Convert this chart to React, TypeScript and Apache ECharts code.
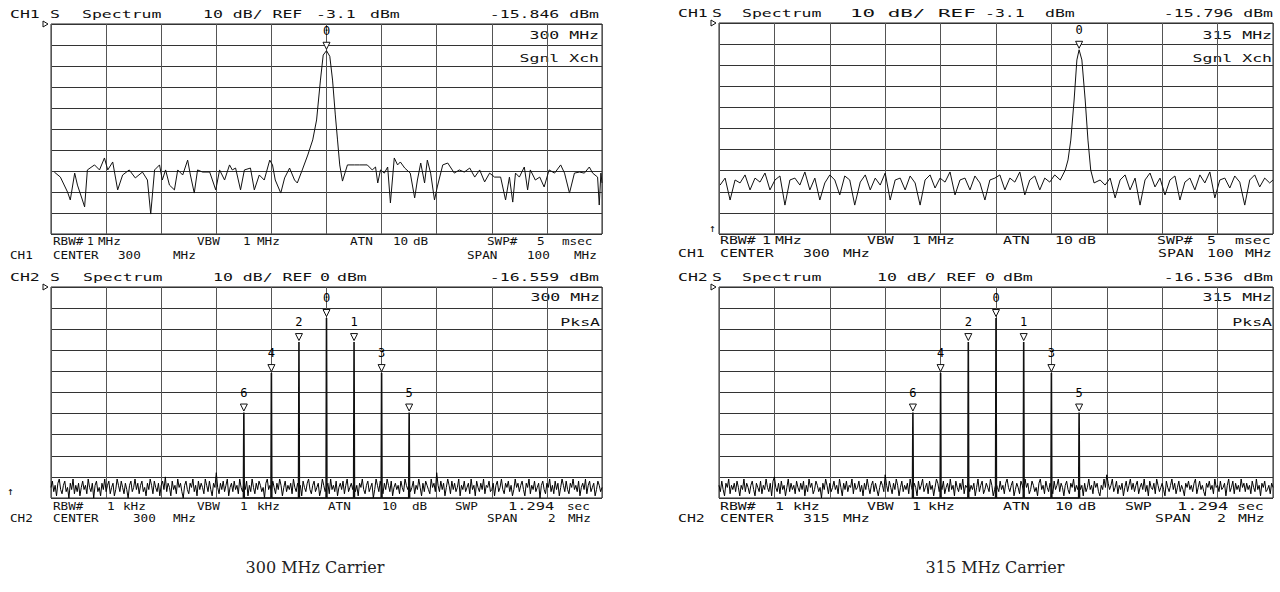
import React, { useEffect, useRef } from "react";
import * as echarts from "echarts";

// ---------- reference levels ----------
const CH1_REF_DBM = -3.1;
const CH2_REF_DBM = 0;

// ---------- CH1 (100 MHz span) traces: [offset from 300 MHz center in MHz, level dBm] ----------
const ch1Trace300: [number, number][] = [
  [-49.4,-73.6],[-48.3,-76.0],[-47.0,-83.1],[-46.5,-86.9],[-45.7,-74.1],[-45.2,-79.8],[-44.3,-86.9],[-43.9,-90.2],[-43.4,-72.6],[-42.1,-70.2],
  [-41.2,-72.6],[-40.3,-66.9],[-39.7,-72.6],[-38.8,-68.8],[-37.9,-82.1],[-37.0,-75.0],[-35.8,-72.6],[-34.7,-76.4],[-33.4,-73.6],[-32.5,-77.4],
  [-31.9,-93.6],[-31.2,-72.6],[-30.3,-70.2],[-29.8,-77.4],[-29.2,-72.6],[-28.5,-79.8],[-27.6,-82.1],[-27.0,-72.6],[-26.1,-75.0],[-25.2,-67.9],
  [-24.7,-75.0],[-24.0,-83.6],[-23.4,-72.6],[-22.5,-73.6],[-21.2,-73.6],[-20.1,-82.1],[-19.4,-72.6],[-18.5,-77.4],[-17.6,-70.2],[-17.1,-72.6],
  [-16.5,-71.7],[-15.6,-82.1],[-14.9,-72.6],[-13.8,-71.7],[-13.1,-82.1],[-12.2,-75.0],[-11.3,-77.4],[-10.3,-67.9],[-9.8,-70.2],[-9.3,-77.4],
  [-8.3,-83.6],[-7.6,-76.4],[-6.7,-71.7],[-5.8,-77.4],[-5.3,-78.8],[-4.4,-72.6],[-3.4,-65.5],[-2.5,-58.3],[-1.8,-48.8],[-1.1,-29.8],
  [-0.6,-17.9],[0,-15.8],[0.6,-18.5],[1.1,-29.8],[1.6,-46.4],[2.0,-58.3],[2.4,-70.2],[2.9,-77.9],[3.8,-70.2],[5.1,-70.2],
  [6.0,-70.2],[7.4,-70.2],[8.3,-72.6],[8.9,-71.2],[9.3,-78.8],[9.8,-72.6],[10.5,-74.1],[11.1,-71.2],[11.6,-88.3],[12.3,-66.9],
  [12.9,-70.2],[13.4,-68.8],[14.2,-71.7],[15.2,-74.1],[16.0,-85.9],[16.5,-77.4],[17.1,-69.3],[17.8,-78.8],[18.3,-67.9],[18.9,-74.1],
  [19.6,-86.9],[20.1,-80.7],[21.1,-70.2],[22.0,-69.3],[23.2,-74.1],[24.1,-72.6],[25.0,-73.6],[26.0,-71.7],[26.9,-76.0],[27.8,-72.6],
  [28.7,-78.3],[29.6,-74.1],[30.5,-76.0],[31.6,-76.0],[32.5,-86.9],[33.2,-76.0],[33.8,-87.9],[34.3,-74.1],[35.0,-76.0],[35.9,-71.2],
  [36.5,-82.1],[37.0,-72.6],[37.9,-77.4],[38.7,-76.0],[39.5,-80.7],[40.4,-72.6],[41.4,-74.1],[42.5,-70.2],[43.2,-74.1],[44.1,-83.6],
  [45.0,-74.1],[45.9,-73.6],[46.8,-74.1],[47.7,-71.2],[48.3,-74.1],[49.2,-76.0],[49.5,-89.3],[49.8,-74.1],[50,-78.8]
];

const ch1Trace315: [number, number][] = [
  [-49.8,-79.9],[-48.9,-76.6],[-48.0,-87.0],[-47.1,-77.5],[-46.2,-78.9],[-45.3,-75.1],[-44.4,-82.2],[-43.5,-76.6],[-42.6,-78.5],[-41.7,-74.2],
  [-40.8,-82.2],[-39.9,-77.5],[-39.0,-75.6],[-38.1,-89.4],[-37.2,-77.5],[-36.3,-76.6],[-35.4,-79.9],[-34.5,-73.7],[-33.6,-82.2],[-32.7,-76.6],
  [-31.8,-87.0],[-30.9,-78.9],[-30.0,-75.1],[-29.1,-77.5],[-28.2,-84.6],[-27.3,-75.6],[-26.4,-77.5],[-25.5,-89.4],[-24.5,-78.5],[-23.6,-75.1],
  [-22.7,-82.2],[-21.8,-76.6],[-20.9,-79.9],[-20.0,-74.2],[-19.1,-87.0],[-18.2,-77.5],[-17.3,-76.6],[-16.4,-82.2],[-15.5,-75.6],[-14.6,-78.9],
  [-13.7,-89.4],[-12.8,-77.5],[-11.9,-75.1],[-11.0,-81.3],[-10.1,-76.6],[-9.2,-78.5],[-8.3,-73.7],[-7.4,-84.6],[-6.5,-77.5],[-5.6,-76.6],
  [-4.7,-82.2],[-3.8,-75.6],[-2.9,-78.9],[-2.0,-87.0],[-1.1,-77.5],[-0.2,-76.6],[0.7,-75.1],[1.6,-82.2],[2.5,-76.6],[3.4,-78.5],
  [4.3,-73.7],[5.2,-84.6],[6.1,-77.5],[7.0,-75.6],[7.9,-82.2],[8.8,-76.6],[9.7,-78.5],[10.6,-75.1],[11.6,-77.5],[12.5,-72.8],
  [13.0,-68.0],[13.5,-58.6],[14.1,-39.6],[14.6,-20.6],[15.0,-15.8],[15.5,-20.6],[16.1,-39.6],[16.6,-58.6],[17.1,-72.8],[17.7,-78.9],
  [18.8,-77.5],[19.7,-79.9],[20.6,-76.6],[21.5,-86.0],[22.4,-77.5],[23.3,-75.1],[24.2,-82.2],[25.1,-76.6],[26.0,-89.4],[26.9,-77.5],
  [27.8,-74.2],[28.7,-80.8],[29.6,-76.6],[30.5,-84.6],[31.4,-77.5],[32.3,-75.6],[33.2,-87.0],[34.1,-78.5],[35.0,-76.6],[35.9,-82.2],
  [36.8,-75.1],[37.7,-78.9],[38.6,-73.7],[39.5,-86.0],[40.4,-77.5],[41.3,-76.6],[42.2,-81.3],[43.1,-75.6],[44.0,-78.5],[44.9,-89.4],
  [45.8,-77.5],[46.7,-75.1],[47.6,-80.8],[48.5,-76.6],[49.4,-78.9],[50,-77.5]
];

const ch1MarkerFreq300 = 0;
const ch1MarkerLevel300 = -15.846;
const ch1MarkerFreq315 = 15;
const ch1MarkerLevel315 = -15.796;

// ---------- CH2 (2 MHz span): noise floor in 5 kHz bins from -1000 kHz ----------
const ch2NoiseStartKHz = -1000;
const ch2NoiseStepKHz = 5;
const ch2Noise300: number[] = [
  -95,-92,-97,-94,-99,-93,-91,-96,-98,-94,-92,-97,-95,-100,-93,-96,-91,-98,-94,-97,
  -93,-99,-95,-92,-96,-94,-98,-91,-95,-97,-93,-100,-94,-92,-97,-95,-99,-93,-96,-91,
  -97,-94,-92,-98,-95,-93,-99,-96,-91,-94,-97,-92,-95,-98,-93,-96,-100,-94,-92,-97,
  -95,-91,-96,-93,-98,-94,-92,-97,-95,-99,-93,-96,-91,-94,-98,-92,-95,-97,-93,-99,
  -94,-92,-96,-90,-97,-93,-95,-99,-92,-96,-94,-98,-91,-95,-93,-97,-100,-94,-92,-96,
  -98,-93,-95,-91,-97,-94,-99,-92,-96,-93,-95,-98,-91,-94,-97,-92,-96,-99,-93,-95,
  -88,-95,-98,-93,-96,-92,-97,-94,-91,-99,-95,-93,-97,-92,-96,-94,-98,-91,-95,-97,
  -93,-96,-92,-99,-94,-97,-91,-95,-98,-93,-96,-92,-94,-97,-95,-100,-93,-91,-96,-94,
  -97,-92,-95,-98,-93,-96,-91,-94,-99,-95,-92,-97,-94,-96,-93,-98,-91,-95,-97,-93,
  -96,-94,-99,-92,-95,-97,-93,-91,-96,-98,-94,-92,-97,-95,-93,-99,-96,-91,-94,-97,
  -95,-93,-98,-91,-96,-94,-97,-92,-99,-95,-93,-96,-92,-98,-94,-91,-97,-95,-93,-96,
  -92,-97,-94,-99,-93,-95,-91,-96,-98,-94,-92,-97,-95,-93,-100,-96,-91,-94,-97,-92,
  -95,-98,-93,-96,-91,-94,-97,-92,-99,-95,-93,-96,-94,-98,-92,-95,-97,-91,-94,-96,
  -93,-97,-95,-92,-98,-94,-96,-91,-95,-99,-93,-97,-92,-94,-96,-98,-91,-95,-93,-97,
  -88,-94,-97,-92,-96,-93,-99,-95,-91,-94,-98,-92,-96,-93,-97,-95,-91,-99,-94,-96,
  -92,-97,-95,-93,-98,-91,-96,-94,-99,-92,-95,-97,-93,-96,-91,-98,-94,-95,-92,-97,
  -96,-93,-99,-94,-92,-97,-95,-91,-96,-98,-93,-95,-92,-97,-94,-99,-96,-91,-95,-93,
  -97,-94,-92,-96,-99,-93,-95,-91,-98,-94,-96,-92,-97,-95,-93,-100,-94,-92,-96,-98,
  -93,-95,-91,-97,-94,-98,-92,-96,-93,-99,-95,-91,-94,-97,-92,-96,-98,-93,-95,-91,
  -96,-94,-97,-92,-99,-95,-93,-96,-91,-98,-94,-92,-97,-95,-93,-99,-96,-92,-94,-97,
  -95
];
const ch2Noise315: number[] = [
  -94,-97,-92,-96,-99,-93,-95,-91,-98,-94,-96,-93,-97,-92,-95,-99,-94,-96,-91,-97,
  -93,-95,-98,-94,-92,-96,-99,-93,-95,-97,-92,-98,-94,-96,-91,-95,-97,-93,-99,-92,
  -90,-95,-97,-93,-98,-92,-96,-94,-99,-95,-91,-97,-93,-96,-94,-98,-92,-95,-97,-93,
  -96,-92,-99,-94,-97,-91,-95,-93,-98,-96,-92,-94,-97,-95,-100,-93,-96,-91,-94,-98,
  -93,-97,-95,-92,-96,-94,-98,-91,-95,-99,-93,-96,-92,-97,-94,-95,-91,-98,-93,-96,
  -95,-92,-97,-94,-99,-93,-96,-91,-95,-98,-94,-92,-97,-93,-96,-99,-95,-92,-94,-97,
  -89,-94,-97,-92,-95,-98,-93,-96,-91,-94,-99,-95,-92,-97,-94,-96,-93,-98,-91,-95,
  -97,-93,-95,-99,-92,-96,-94,-91,-97,-95,-93,-98,-92,-96,-94,-99,-95,-91,-93,-97,
  -94,-96,-92,-98,-95,-93,-97,-91,-96,-94,-99,-92,-95,-97,-93,-96,-91,-98,-94,-95,
  -92,-97,-94,-96,-93,-99,-95,-91,-97,-94,-92,-98,-96,-93,-95,-97,-91,-94,-99,-96,
  -93,-95,-97,-92,-96,-94,-98,-93,-91,-95,-97,-94,-92,-99,-96,-93,-95,-98,-92,-94,
  -97,-91,-95,-93,-98,-96,-92,-94,-97,-95,-99,-93,-91,-96,-94,-98,-92,-95,-97,-93,
  -95,-98,-92,-96,-94,-91,-97,-93,-95,-99,-94,-92,-96,-98,-93,-95,-91,-97,-94,-96,
  -92,-96,-94,-99,-93,-97,-95,-91,-96,-94,-98,-92,-95,-93,-97,-99,-94,-96,-91,-95,
  -89,-93,-96,-94,-91,-97,-95,-92,-98,-94,-96,-93,-99,-95,-92,-97,-94,-91,-96,-93,
  -97,-94,-92,-98,-95,-93,-96,-91,-97,-94,-99,-92,-95,-96,-93,-98,-91,-94,-97,-95,
  -93,-96,-99,-92,-95,-97,-94,-91,-96,-93,-98,-95,-92,-97,-94,-96,-99,-93,-95,-92,
  -96,-94,-97,-93,-91,-98,-95,-92,-96,-94,-97,-99,-93,-95,-92,-96,-94,-98,-91,-95,
  -94,-97,-92,-96,-95,-93,-99,-94,-91,-97,-95,-92,-98,-93,-96,-94,-97,-91,-95,-93,
  -97,-93,-96,-94,-98,-92,-95,-97,-91,-96,-94,-99,-93,-95,-92,-97,-96,-94,-98,-93,
  -95
];

const ch2MarkerLabels = ["6", "4", "2", "0", "1", "3", "5"];
const ch2MarkerFreqsKHz = [-300, -200, -100, 0, 100, 200, 300];
const ch2MarkerLevels300 = [-59.5, -40.8, -26.1, -14.7, -26.1, -40.8, -59.5];
const ch2MarkerLevels315 = [-59.5, -40.8, -26.1, -14.7, -26.1, -40.8, -59.5];

// ---------- texts ----------
const captions = ["300 MHz Carrier", "315 MHz Carrier"];

const FONT = "'DejaVu Sans Mono', 'Liberation Mono', monospace";
const INK = "#111";

function T(text: string, x: number, y: number, sx: number, align: string = "left") {
  return {
    type: "text",
    x,
    y,
    scaleX: sx,
    silent: true,
    style: {
      text,
      font: `11px ${FONT}`,
      fill: INK,
      align,
      textAlign: align,
      verticalAlign: "middle",
      textVerticalAlign: "middle",
    },
  };
}

const H = 1.5;
const FL = 1.15;
const FR = 1.35;

const panelTexts = [
  // top-left
  T("CH1", 10, 14, H), T("S", 50, 14, H), T("Spectrum", 82, 14, H), T("10 dB/ REF", 203, 14, H),
  T("-3.1", 316, 14, H), T("dBm", 370, 14, H), T("-15.846 dBm", 599, 14, H, "right"),
  T("300 MHz", 599, 35, H, "right"), T("Sgnl Xch", 599, 58, H, "right"),
  T("RBW#", 53, 241, FL), T("1", 87, 241, 1), T("MHz", 98, 241, FL), T("VBW", 197, 241, FL), T("1", 243, 241, FL),
  T("MHz", 257, 241, FL), T("ATN", 350, 241, FL), T("10", 393, 241, FL), T("dB", 413, 241, FL),
  T("SWP#", 487, 241, FL), T("5", 537, 241, FL), T("msec", 562, 241, FL),
  T("CH1", 10, 255, FL), T("CENTER", 53, 255, FL), T("300", 118, 255, FL), T("MHz", 173, 255, FL),
  T("SPAN", 467, 255, FL), T("100", 527, 255, FL), T("MHz", 574, 255, FL),
  // bottom-left
  T("CH2", 10, 277, H), T("S", 50, 277, H), T("Spectrum", 83, 277, H), T("10 dB/ REF", 213, 277, H),
  T("0", 320, 277, H), T("dBm", 337, 277, H), T("-16.559 dBm", 599, 277, H, "right"),
  T("300 MHz", 600, 297, H, "right"), T("PksA", 600, 322, H, "right"),
  T("\u2191", 7, 491, 1),
  T("RBW#", 53, 506, FL), T("1", 107, 506, FL), T("kHz", 123, 506, FL), T("VBW", 197, 506, FL), T("1", 240, 506, FL),
  T("kHz", 257, 506, FL), T("ATN", 328, 506, FL), T("10", 382, 506, FL), T("dB", 412, 506, FL),
  T("SWP", 455, 506, FL), T("1.294", 508, 506, 1.4), T("sec", 567, 506, FL),
  T("CH2", 10, 518, FL), T("CENTER", 53, 518, FL), T("300", 133, 518, FL), T("MHz", 173, 518, FL),
  T("SPAN", 487, 518, FL), T("2", 548, 518, FL), T("MHz", 568, 518, FL),
  // top-right
  T("CH1", 678, 13, H), T("S", 712, 13, H), T("Spectrum", 742, 13, H), T("10 dB/ REF", 850, 13, 1.9),
  T("-3.1", 985, 13, H), T("dBm", 1045, 13, H), T("-15.796 dBm", 1273, 13, H, "right"),
  T("315 MHz", 1272, 35, H, "right"), T("Sgnl Xch", 1272, 58, H, "right"),
  T("\u2191", 709, 228, 1),
  T("RBW#", 720, 240, FR), T("1", 762, 240, FR), T("MHz", 775, 240, FR), T("VBW", 867, 240, FR), T("1", 912, 240, FR),
  T("MHz", 928, 240, FR), T("ATN", 1003, 240, FR), T("10", 1055, 240, FR), T("dB", 1078, 240, FR),
  T("SWP#", 1157, 240, FR), T("5", 1207, 240, FR), T("msec", 1235, 240, FR),
  T("CH1", 678, 253, FR), T("CENTER", 720, 253, FR), T("300", 803, 253, FR), T("MHz", 843, 253, FR),
  T("SPAN", 1158, 253, FR), T("100", 1207, 253, FR), T("MHz", 1245, 253, FR),
  // bottom-right
  T("CH2", 678, 277, H), T("S", 712, 277, H), T("Spectrum", 742, 277, H), T("10 dB/ REF", 877, 277, H),
  T("0", 985, 277, H), T("dBm", 1003, 277, H), T("-16.536 dBm", 1273, 277, H, "right"),
  T("315 MHz", 1272, 297, H, "right"), T("PksA", 1272, 322, H, "right"),
  T("RBW#", 720, 506, FR), T("1", 775, 506, FR), T("kHz", 793, 506, FR), T("VBW", 867, 506, FR), T("1", 912, 506, FR),
  T("kHz", 928, 506, FR), T("ATN", 1003, 506, FR), T("10", 1055, 506, FR), T("dB", 1078, 506, FR),
  T("SWP", 1125, 506, FR), T("1.294", 1177, 506, 1.55), T("sec", 1237, 506, FR),
  T("CH2", 678, 518, FR), T("CENTER", 720, 518, FR), T("315", 803, 518, FR), T("MHz", 843, 518, FR),
  T("SPAN", 1155, 518, FR), T("2", 1217, 518, FR), T("MHz", 1238, 518, FR),
];

const refArrows = [
  [47, 24], [47, 287], [715, 23], [715, 287],
].map(([x, y]) => ({
  type: "polygon",
  silent: true,
  shape: { points: [[x - 4, y - 3], [x + 1, y], [x - 4, y + 3]] },
  style: { fill: "#fff", stroke: INK, lineWidth: 1 },
}));

const captionTexts = [
  { x: 315, text: captions[0] },
  { x: 995, text: captions[1] },
].map((c) => ({
  type: "text",
  x: c.x,
  y: 567,
  silent: true,
  style: {
    text: c.text,
    font: "16px 'DejaVu Serif', serif",
    fill: "#222",
    align: "center",
    textAlign: "center",
    verticalAlign: "middle",
    textVerticalAlign: "middle",
  },
}));

// ---------- option builders ----------
const grids = [
  { left: 51, top: 24, width: 551, height: 210 },
  { left: 51, top: 287, width: 551, height: 211 },
  { left: 719, top: 23, width: 554, height: 211 },
  { left: 719, top: 287, width: 554, height: 211 },
].map((g) => ({ ...g, show: true, borderColor: "#222", borderWidth: 1, backgroundColor: "#fff" }));

function xAx(i: number, min: number, max: number, interval: number) {
  return {
    gridIndex: i, type: "value", min, max, interval,
    axisLabel: { show: false }, axisTick: { show: false }, axisLine: { show: false },
    splitLine: { show: true, lineStyle: { color: "#555", width: 1 } },
  };
}
function yAx(i: number) {
  return {
    gridIndex: i, type: "value", min: -100, max: 0, interval: 10,
    axisLabel: { show: false }, axisTick: { show: false }, axisLine: { show: false },
    splitLine: { show: true, lineStyle: { color: "#333", width: 1 } },
  };
}

const markerStyle = {
  type: "scatter",
  symbol: "triangle",
  symbolRotate: 180,
  symbolSize: [7, 7],
  symbolOffset: [0, -5],
  itemStyle: { color: "#fff", borderColor: INK, borderWidth: 1, opacity: 1 },
  label: {
    show: true, position: "top", distance: 5, color: "#000",
    fontFamily: "DejaVu Sans Mono", fontSize: 12,
    formatter: (p: any) => p.name,
  },
  emphasis: { disabled: true },
  z: 5,
};

function ch1Series(idx: number, trace: [number, number][], mf: number, ml: number) {
  return [
    {
      type: "line", xAxisIndex: idx, yAxisIndex: idx, showSymbol: false, symbol: "none",
      data: trace.map(([f, l]) => [f, +(l - CH1_REF_DBM).toFixed(2)]),
      lineStyle: { color: "#111", width: 1 }, clip: true, z: 3,
    },
    { ...markerStyle, xAxisIndex: idx, yAxisIndex: idx, data: [{ name: "0", value: [mf, ml - CH1_REF_DBM] }] },
  ];
}

function ch2Series(idx: number, noise: number[], levels: number[]) {
  const noiseData = noise.map((v, i) => [ch2NoiseStartKHz + i * ch2NoiseStepKHz, v - CH2_REF_DBM]);
  const spikes: any[] = [];
  ch2MarkerFreqsKHz.forEach((f, i) => {
    spikes.push([f - 1.5, -100], [f, levels[i] - CH2_REF_DBM], [f + 1.5, -100]);
  });
  return [
    {
      type: "line", xAxisIndex: idx, yAxisIndex: idx, showSymbol: false, symbol: "none",
      data: noiseData, lineStyle: { color: "#000", width: 1 }, clip: true, z: 3,
    },
    {
      type: "line", xAxisIndex: idx, yAxisIndex: idx, showSymbol: false, symbol: "none",
      data: spikes, lineStyle: { color: "#111", width: 1.6 }, clip: true, z: 4,
    },
    {
      ...markerStyle, xAxisIndex: idx, yAxisIndex: idx,
      data: ch2MarkerFreqsKHz.map((f, i) => ({ name: ch2MarkerLabels[i], value: [f, levels[i] - CH2_REF_DBM] })),
    },
  ];
}

export default function App() {
  const ref = useRef<HTMLDivElement>(null);
  useEffect(() => {
    if (!ref.current) return;
    const chart = echarts.init(ref.current, undefined, { renderer: "svg" });
    chart.setOption({
      animation: false,
      backgroundColor: "#fff",
      grid: grids,
      xAxis: [xAx(0, -50, 50, 10), xAx(1, -1000, 1000, 200), xAx(2, -50, 50, 10), xAx(3, -1000, 1000, 200)],
      yAxis: [yAx(0), yAx(1), yAx(2), yAx(3)],
      series: [
        ...ch1Series(0, ch1Trace300, ch1MarkerFreq300, ch1MarkerLevel300),
        ...ch2Series(1, ch2Noise300, ch2MarkerLevels300),
        ...ch1Series(2, ch1Trace315, ch1MarkerFreq315, ch1MarkerLevel315),
        ...ch2Series(3, ch2Noise315, ch2MarkerLevels315),
      ],
      graphic: { elements: [...panelTexts, ...refArrows, ...captionTexts] },
    });
    return () => chart.dispose();
  }, []);
  return (
    <div
      ref={ref}
      style={{ position: "absolute", left: 0, top: 0, width: 1280, height: 592, background: "#fff" }}
    />
  );
}
